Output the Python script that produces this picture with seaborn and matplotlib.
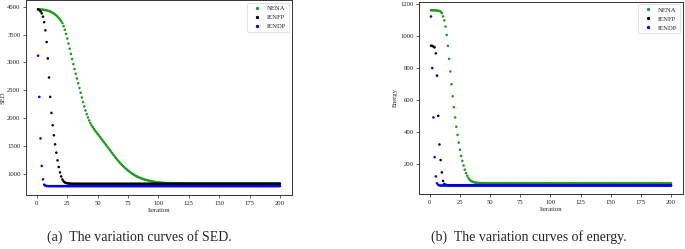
import matplotlib
matplotlib.use("Agg")
import matplotlib.pyplot as plt
import pandas as pd
import seaborn as sns

iterations = list(range(1, 201))
methods = ["NENA", "IENFP", "IENDP"]
palette = {"NENA": "#1f9a1f", "IENFP": "black", "IENDP": "blue"}

sed_nena = [
    3952, 3951, 3950, 3948, 3946, 3943, 3939, 3934, 3928, 3921, 3912, 3902, 3890, 3876, 3860, 3842, 3821, 3797, 3772, 3742,
    3705, 3650, 3585, 3510, 3428, 3338, 3246, 3152, 3060, 2968, 2880, 2795, 2710, 2625, 2540, 2455, 2370, 2288, 2210, 2137,
    2070, 2010, 1957, 1911, 1871, 1836, 1804, 1774, 1745, 1716, 1688, 1660, 1631, 1602, 1573, 1544, 1515, 1486, 1457, 1428,
    1399, 1370, 1341, 1312, 1284, 1257, 1231, 1206, 1182, 1159, 1137, 1116, 1096, 1077, 1059, 1042, 1026, 1010, 995, 981,
    968, 956, 945, 935, 926, 917, 909, 902, 895, 889, 883, 877, 872, 867, 862, 858, 854, 851, 848, 845,
    843, 841, 839, 837, 836, 835, 834, 833, 832, 831, 830, 830, 829, 829, 829, 828, 828, 828, 828, 827,
    827, 827, 827, 827, 827, 827, 827, 826, 826, 826, 826, 826, 826, 826, 826, 826, 826, 826, 826, 826,
    826, 826, 826, 826, 826, 826, 826, 826, 826, 826, 826, 826, 826, 826, 826, 826, 826, 826, 826, 826,
    826, 826, 826, 826, 826, 826, 826, 826, 826, 826, 826, 826, 826, 826, 826, 826, 826, 826, 826, 826,
    826, 826, 826, 826, 826, 826, 826, 826, 826, 826, 826, 826, 826, 826, 826, 826, 826, 826, 826, 826,
]
sed_ienfp = [
    3952, 3940, 3916, 3880, 3820, 3722, 3575, 3365, 3071, 2729, 2381, 2093, 1871, 1691, 1529, 1379, 1241, 1121, 1025, 953,
    899, 863, 845, 835, 829, 826, 824, 823, 822, 822, 822, 821, 821, 821, 821, 821, 821, 821, 821, 821,
    821, 821, 821, 821, 821, 821, 821, 821, 821, 821, 821, 821, 821, 821, 821, 821, 821, 821, 821, 821,
    821, 821, 821, 821, 821, 821, 821, 821, 821, 821, 821, 821, 821, 821, 821, 821, 821, 821, 821, 821,
    821, 821, 821, 821, 821, 821, 821, 821, 821, 821, 821, 821, 821, 821, 821, 821, 821, 821, 821, 821,
    821, 821, 821, 821, 821, 821, 821, 821, 821, 821, 821, 821, 821, 821, 821, 821, 821, 821, 821, 821,
    821, 821, 821, 821, 821, 821, 821, 821, 821, 821, 821, 821, 821, 821, 821, 821, 821, 821, 821, 821,
    821, 821, 821, 821, 821, 821, 821, 821, 821, 821, 821, 821, 821, 821, 821, 821, 821, 821, 821, 821,
    821, 821, 821, 821, 821, 821, 821, 821, 821, 821, 821, 821, 821, 821, 821, 821, 821, 821, 821, 821,
    821, 821, 821, 821, 821, 821, 821, 821, 821, 821, 821, 821, 821, 821, 821, 821, 821, 821, 821, 821,
]
sed_iendp = [
    3120, 2380, 1635, 1140, 900, 805, 786, 781, 779, 778, 778, 778, 778, 778, 778, 778, 778, 778, 778, 778,
    778, 778, 778, 778, 778, 778, 778, 778, 778, 778, 778, 778, 778, 778, 778, 778, 778, 778, 778, 778,
    778, 778, 778, 778, 778, 778, 778, 778, 778, 778, 778, 778, 778, 778, 778, 778, 778, 778, 778, 778,
    778, 778, 778, 778, 778, 778, 778, 778, 778, 778, 778, 778, 778, 778, 778, 778, 778, 778, 778, 778,
    778, 778, 778, 778, 778, 778, 778, 778, 778, 778, 778, 778, 778, 778, 778, 778, 778, 778, 778, 778,
    778, 778, 778, 778, 778, 778, 778, 778, 778, 778, 778, 778, 778, 778, 778, 778, 778, 778, 778, 778,
    778, 778, 778, 778, 778, 778, 778, 778, 778, 778, 778, 778, 778, 778, 778, 778, 778, 778, 778, 778,
    778, 778, 778, 778, 778, 778, 778, 778, 778, 778, 778, 778, 778, 778, 778, 778, 778, 778, 778, 778,
    778, 778, 778, 778, 778, 778, 778, 778, 778, 778, 778, 778, 778, 778, 778, 778, 778, 778, 778, 778,
    778, 778, 778, 778, 778, 778, 778, 778, 778, 778, 778, 778, 778, 778, 778, 778, 778, 778, 778, 778,
]

energy_nena = [
    1160, 1160, 1160, 1159, 1159, 1158, 1157, 1155, 1151, 1142, 1122, 1097, 1058, 1006, 938, 857, 778, 698, 623, 555,
    491, 433, 382, 334, 289, 251, 220, 191, 165, 144, 127, 113, 103, 96, 91, 88, 86, 84, 83, 82,
    82, 81, 81, 81, 80, 80, 80, 80, 80, 80, 80, 80, 80, 80, 80, 80, 80, 80, 80, 80,
    80, 80, 80, 80, 80, 80, 80, 80, 80, 80, 80, 80, 80, 80, 80, 80, 80, 80, 80, 80,
    80, 80, 80, 80, 80, 80, 80, 80, 80, 80, 80, 80, 80, 80, 80, 80, 80, 80, 80, 80,
    80, 80, 80, 80, 80, 80, 80, 80, 80, 80, 80, 80, 80, 80, 80, 80, 80, 80, 80, 80,
    80, 80, 80, 80, 80, 80, 80, 80, 80, 80, 80, 80, 80, 80, 80, 80, 80, 80, 80, 80,
    80, 80, 80, 80, 80, 80, 80, 80, 80, 80, 80, 80, 80, 80, 80, 80, 80, 80, 80, 80,
    80, 80, 80, 80, 80, 80, 80, 80, 80, 80, 80, 80, 80, 80, 80, 80, 80, 80, 80, 80,
    80, 80, 80, 80, 80, 80, 80, 80, 80, 80, 80, 80, 80, 80, 80, 80, 80, 80, 80, 80,
]
energy_ienfp = [
    939, 937, 934, 928, 891, 752, 501, 322, 225, 148, 95, 76, 71, 69, 68, 68, 68, 68, 68, 68,
    68, 68, 68, 68, 68, 68, 68, 68, 68, 68, 68, 68, 68, 68, 68, 68, 68, 68, 68, 68,
    68, 68, 68, 68, 68, 68, 68, 68, 68, 68, 68, 68, 68, 68, 68, 68, 68, 68, 68, 68,
    68, 68, 68, 68, 68, 68, 68, 68, 68, 68, 68, 68, 68, 68, 68, 68, 68, 68, 68, 68,
    68, 68, 68, 68, 68, 68, 68, 68, 68, 68, 68, 68, 68, 68, 68, 68, 68, 68, 68, 68,
    68, 68, 68, 68, 68, 68, 68, 68, 68, 68, 68, 68, 68, 68, 68, 68, 68, 68, 68, 68,
    68, 68, 68, 68, 68, 68, 68, 68, 68, 68, 68, 68, 68, 68, 68, 68, 68, 68, 68, 68,
    68, 68, 68, 68, 68, 68, 68, 68, 68, 68, 68, 68, 68, 68, 68, 68, 68, 68, 68, 68,
    68, 68, 68, 68, 68, 68, 68, 68, 68, 68, 68, 68, 68, 68, 68, 68, 68, 68, 68, 68,
    68, 68, 68, 68, 68, 68, 68, 68, 68, 68, 68, 68, 68, 68, 68, 68, 68, 68, 68, 68,
]
energy_iendp = [
    1121, 799, 491, 243, 123, 80, 70, 67, 66, 66, 66, 66, 66, 66, 66, 66, 66, 66, 66, 66,
    66, 66, 66, 66, 66, 66, 66, 66, 66, 66, 66, 66, 66, 66, 66, 66, 66, 66, 66, 66,
    66, 66, 66, 66, 66, 66, 66, 66, 66, 66, 66, 66, 66, 66, 66, 66, 66, 66, 66, 66,
    66, 66, 66, 66, 66, 66, 66, 66, 66, 66, 66, 66, 66, 66, 66, 66, 66, 66, 66, 66,
    66, 66, 66, 66, 66, 66, 66, 66, 66, 66, 66, 66, 66, 66, 66, 66, 66, 66, 66, 66,
    66, 66, 66, 66, 66, 66, 66, 66, 66, 66, 66, 66, 66, 66, 66, 66, 66, 66, 66, 66,
    66, 66, 66, 66, 66, 66, 66, 66, 66, 66, 66, 66, 66, 66, 66, 66, 66, 66, 66, 66,
    66, 66, 66, 66, 66, 66, 66, 66, 66, 66, 66, 66, 66, 66, 66, 66, 66, 66, 66, 66,
    66, 66, 66, 66, 66, 66, 66, 66, 66, 66, 66, 66, 66, 66, 66, 66, 66, 66, 66, 66,
    66, 66, 66, 66, 66, 66, 66, 66, 66, 66, 66, 66, 66, 66, 66, 66, 66, 66, 66, 66,
]

sns.set_style("ticks")
plt.rcParams["font.family"] = ["Liberation Serif", "DejaVu Serif"]

FS = 4.8

def long_frame(series, name):
    rows = []
    for m, vals in zip(methods, series):
        rows.append(pd.DataFrame({"Iteration": iterations, name: vals, "method": m}))
    return pd.concat(rows, ignore_index=True)

df_sed = long_frame([sed_nena, sed_ienfp, sed_iendp], "SED")
df_en = long_frame([energy_nena, energy_ienfp, energy_iendp], "Energy")

W, H = 685, 249
fig = plt.figure(figsize=(W / 100, H / 100), dpi=100)
ax1 = fig.add_axes([26 / W, 1 - 195 / H, 266 / W, 194.5 / H])
ax2 = fig.add_axes([419 / W, 1 - 194.3 / H, 264 / W, 192.8 / H])

for ax, df, name, lp in [(ax1, df_sed, "SED", 1.2), (ax2, df_en, "Energy", 1.5)]:
    sns.scatterplot(data=df, x="Iteration", y=name, hue="method", hue_order=methods,
                    palette=palette, s=3.4, linewidth=0, ax=ax)
    ax.set_xticks([0, 25, 50, 75, 100, 125, 150, 175, 200])
    ax.tick_params(labelsize=FS, length=2, width=0.5, pad=2, colors="#222222")
    ax.set_xlabel("Iteration", fontsize=FS, labelpad=1.5)
    ax.set_ylabel(name, fontsize=FS, labelpad=lp)
    for sp in ax.spines.values():
        sp.set_linewidth(0.7)
        sp.set_color("#333333")
    sns.move_legend(ax, "upper right", title=None, fontsize=FS, frameon=True,
                    markerscale=1.3, borderaxespad=0.4, handletextpad=0.6)
    leg = ax.get_legend()
    leg.get_frame().set_linewidth(0.5)

fig.text(139 / W, 1 - 237 / H, "(a)  The variation curves of SED.", ha="center", va="center", fontsize=10)
fig.text(529 / W, 1 - 237 / H, "(b)  The variation curves of energy.", ha="center", va="center", fontsize=10)

fig.savefig("out.png", dpi=100)
